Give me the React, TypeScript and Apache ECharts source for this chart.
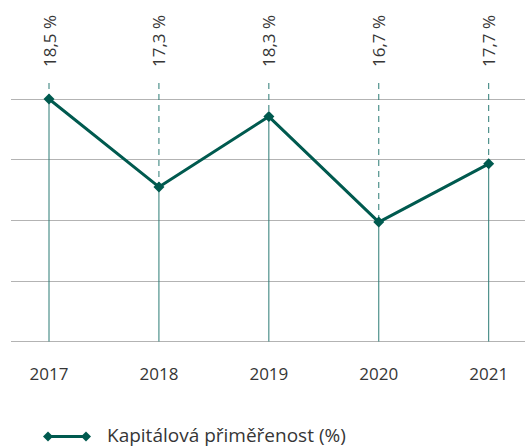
import React, { useEffect, useRef } from "react";
import * as echarts from "echarts";

// Categories (years)
const years = ["2017", "2018", "2019", "2020", "2021"];
// Capital adequacy values shown as labels (%)
const ratioValues = [18.5, 17.3, 18.3, 16.7, 17.7];
// Plotted level of each point in gridline units (0 = baseline, 4 = top line)
const plotLevels = [4.0, 2.55, 3.71, 1.97, 2.93];
// Gridline scale
const levelMin = 0;
const levelMax = 4;
const levelStep = 1;

const seriesName = "Kapitálová přiměřenost (%)";

const FONT = "'Open Sans', sans-serif";
const LINE_COLOR = "#005a4f";
const STEM_COLOR = "#2b7b74";
const TEXT_COLOR = "#363636";

export default function App() {
  const ref = useRef<HTMLDivElement | null>(null);

  useEffect(() => {
    if (!ref.current) return;
    const chart = echarts.init(ref.current, undefined, { renderer: "svg" });

    const fmt = (v: number) => v.toFixed(1).replace(".", ",") + " %";

    const legendY = 436.5;
    const legendX = 43;

    const option: any = {
      animation: false,
      backgroundColor: "#ffffff",
      textStyle: { fontFamily: FONT },
      grid: [
        { left: 11, right: 0, top: 99, bottom: 104.5 },
        { left: 49, right: 36.3, top: 99, bottom: 104.5 },
      ],
      xAxis: [
        { gridIndex: 0, type: "value", min: 0, max: 1, show: false },
        {
          gridIndex: 1,
          type: "category",
          boundaryGap: false,
          data: years,
          axisLine: { show: false },
          axisTick: { show: false },
          axisLabel: {
            margin: 23,
            fontSize: 17,
            color: TEXT_COLOR,
            fontFamily: FONT,
          },
          splitLine: { show: false },
        },
      ],
      yAxis: [
        {
          gridIndex: 0,
          type: "value",
          min: levelMin,
          max: levelMax,
          interval: levelStep,
          axisLine: { show: false },
          axisTick: { show: false },
          axisLabel: { show: false },
          splitLine: { show: true, lineStyle: { color: "#b3b3b3", width: 1 } },
        },
        {
          gridIndex: 1,
          type: "value",
          min: levelMin,
          max: levelMax,
          interval: levelStep,
          show: false,
          splitLine: { show: false },
        },
      ],
      graphic: [
        {
          type: "group",
          silent: true,
          children: [
            {
              type: "rect",
              shape: { x: legendX + 6, y: legendY - 1.4, width: 36, height: 2.8 },
              style: { fill: LINE_COLOR },
            },
            {
              type: "polygon",
              shape: {
                points: [
                  [legendX, legendY],
                  [legendX + 5, legendY - 5],
                  [legendX + 10, legendY],
                  [legendX + 5, legendY + 5],
                ],
              },
              style: { fill: LINE_COLOR },
            },
            {
              type: "polygon",
              shape: {
                points: [
                  [legendX + 38, legendY],
                  [legendX + 43, legendY - 5],
                  [legendX + 48, legendY],
                  [legendX + 43, legendY + 5],
                ],
              },
              style: { fill: LINE_COLOR },
            },
            {
              type: "text",
              x: 107,
              y: legendY - 1.5,
              style: {
                text: seriesName,
                fill: TEXT_COLOR,
                fontSize: 19,
                fontFamily: FONT,
                textAlign: "left",
                textVerticalAlign: "middle",
              },
            },
          ],
        },
      ],
      series: [
        {
          type: "custom",
          xAxisIndex: 1,
          yAxisIndex: 1,
          silent: true,
          z: 1,
          data: plotLevels.map((v, i) => [i, v, ratioValues[i]]),
          renderItem: (params: any, api: any) => {
            const xi = api.value(0);
            const lv = api.value(1);
            const label = api.value(2);
            const p = api.coord([xi, lv]);
            const bottom = api.coord([xi, levelMin]);
            const top = api.coord([xi, levelMax]);
            return {
              type: "group",
              children: [
                {
                  type: "line",
                  shape: { x1: p[0], y1: p[1], x2: bottom[0], y2: bottom[1] },
                  style: { stroke: STEM_COLOR, lineWidth: 1 },
                },
                {
                  type: "line",
                  shape: { x1: p[0], y1: top[1] - 16, x2: p[0], y2: p[1] },
                  style: { stroke: STEM_COLOR, lineWidth: 1, lineDash: [6, 5] },
                },
                {
                  type: "text",
                  x: p[0],
                  y: top[1] - 32,
                  rotation: Math.PI / 2,
                  style: {
                    text: fmt(label),
                    fill: TEXT_COLOR,
                    fontSize: 17,
                    fontFamily: FONT,
                    textAlign: "left",
                    textVerticalAlign: "middle",
                  },
                },
              ],
            };
          },
        },
        {
          name: seriesName,
          type: "line",
          xAxisIndex: 1,
          yAxisIndex: 1,
          z: 3,
          data: plotLevels,
          symbol: "diamond",
          symbolSize: 11,
          lineStyle: { color: LINE_COLOR, width: 3 },
          itemStyle: { color: LINE_COLOR },
        },
      ],
    };

    chart.setOption(option);
    return () => chart.dispose();
  }, []);

  return (
    <div
      ref={ref}
      style={{ position: "fixed", left: 0, top: 0, width: 525, height: 446 }}
    />
  );
}
